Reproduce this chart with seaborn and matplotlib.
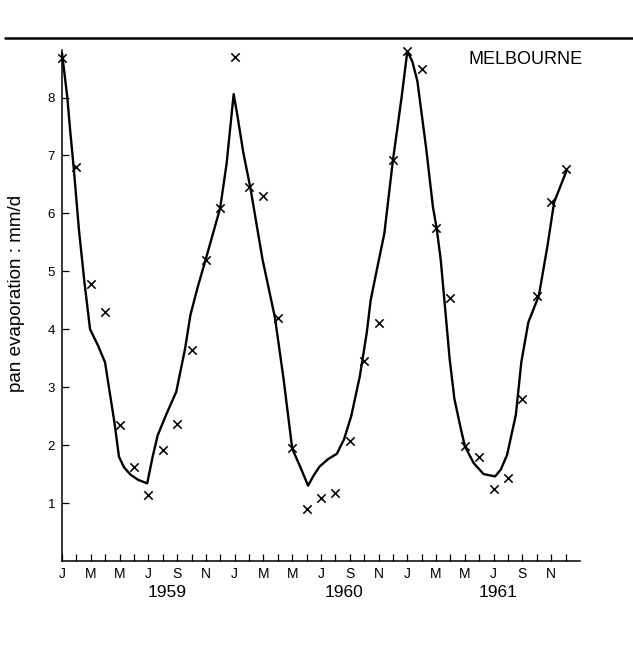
import numpy as np
import pandas as pd
import matplotlib
matplotlib.use("Agg")
import matplotlib.pyplot as plt
from matplotlib.lines import Line2D
import seaborn as sns

# ---- data ----
# monthly pan evaporation observations, Jan 1959 .. Dec 1961 (mm/d)
obs_month = list(range(36))
obs_value = [8.68, 6.80, 4.78, 4.30, 2.35, 1.63, 1.14, 1.92, 2.36, 3.64, 5.20, 6.10,
             8.70, 6.45, 6.30, 4.20, 1.95, 0.90, 1.08, 1.17, 2.07, 3.45, 4.10, 6.92,
             8.80, 8.50, 5.74, 4.54, 1.98, 1.80, 1.24, 1.43, 2.79, 4.58, 6.19, 6.76]

# fitted curve (month index, mm/d)
curve_month = [0.00, 0.37, 0.56, 0.81, 1.18, 1.56, 1.95, 2.50, 2.99, 3.31, 3.64, 3.96,
               4.30, 4.76, 5.30, 5.92, 6.30, 6.65, 7.23, 7.94, 8.55, 8.92, 9.40,
               9.98, 10.99, 11.44, 11.93, 12.17, 12.60, 13.10, 13.94, 14.80, 15.40,
               16.00, 16.60, 17.10, 17.50, 17.90, 18.50, 19.10, 19.60, 20.10, 20.70,
               21.18, 21.45, 21.90, 22.40, 23.00, 23.60, 24.00, 24.35, 24.70, 25.30,
               25.78, 26.04, 26.32, 26.63, 26.94, 27.27, 27.71, 28.00, 28.61, 29.30,
               30.10, 30.50, 30.93, 31.54, 31.92, 32.41, 33.14, 33.74, 34.20, 35.10]
curve_value = [8.77, 8.00, 7.45, 6.80, 5.71, 4.81, 4.00, 3.72, 3.43, 2.92, 2.40, 1.80,
               1.62, 1.49, 1.40, 1.34, 1.80, 2.17, 2.52, 2.92, 3.66, 4.24, 4.70,
               5.20, 6.09, 6.86, 8.06, 7.72, 7.05, 6.43, 5.20, 4.20, 3.14,
               1.94, 1.60, 1.30, 1.48, 1.63, 1.76, 1.85, 2.10, 2.50, 3.19,
               3.94, 4.50, 5.05, 5.65, 6.92, 8.00, 8.80, 8.62, 8.28, 7.14,
               6.11, 5.74, 5.20, 4.35, 3.49, 2.80, 2.29, 1.98, 1.69, 1.50,
               1.46, 1.58, 1.83, 2.52, 3.43, 4.12, 4.58, 5.44, 6.19, 6.76]

month_letters = ['J', 'M', 'M', 'J', 'S', 'N']
years = ['1959', '1960', '1961']
year_pos = [7.3, 19.6, 30.3]
y_ticks = [1, 2, 3, 4, 5, 6, 7, 8]
station = 'MELBOURNE'
y_label = 'pan evaporation : mm/d'

# ---- drawing ----
sns.set_theme(style='ticks')
plt.rcParams['font.family'] = ['Liberation Sans', 'DejaVu Sans']

fig = plt.figure(figsize=(6.33, 6.64), dpi=100)
ax = fig.add_axes([62 / 633, (664 - 561) / 664, 518 / 633, 511 / 664])

obs = pd.DataFrame({'month': obs_month, 'value': obs_value})
curve = pd.DataFrame({'month': curve_month, 'value': curve_value})

sns.lineplot(data=curve, x='month', y='value', sort=False, color='black',
             linewidth=1.7, ax=ax, clip_on=False)
sns.scatterplot(data=obs, x='month', y='value', marker='x', color='black',
                s=36, linewidth=1.15, ax=ax, clip_on=False, zorder=3)

ax.set_xlim(0, 36)
ax.set_ylim(0, 8.82)

ax.set_xticks(obs_month)
xlabels = []
for m in obs_month:
    xlabels.append(month_letters[(m % 12) // 2] if m % 2 == 0 else '')
ax.set_xticklabels(xlabels, fontsize=10)
ax.set_yticks(y_ticks)
ax.set_yticklabels([str(v) for v in y_ticks], fontsize=9.5)

ax.tick_params(axis='both', direction='in', length=5, width=0.9, color='black',
               labelcolor='black')
ax.tick_params(axis='x', pad=4)
ax.tick_params(axis='y', pad=5)

for side in ['top', 'right']:
    ax.spines[side].set_visible(False)
for side in ['left', 'bottom']:
    ax.spines[side].set_color('black')
    ax.spines[side].set_linewidth(1.1)

ax.set_xlabel('')
ax.set_ylabel(y_label, fontsize=13.5, color='black')
ax.yaxis.set_label_coords(-0.071, 0.523)

for yr, pos in zip(years, year_pos):
    ax.text(pos, -0.55, yr, ha='center', va='center', fontsize=12.5,
            color='black', clip_on=False)

fig.text(468 / 633, 1 - 64.5 / 664, station, ha='left', va='baseline',
         fontsize=13, color='black')

fig.add_artist(Line2D([5 / 633, 1.0], [1 - 37.5 / 664, 1 - 37.5 / 664],
                      transform=fig.transFigure, color='black', linewidth=1.8))

fig.savefig('out.png', dpi=100)
